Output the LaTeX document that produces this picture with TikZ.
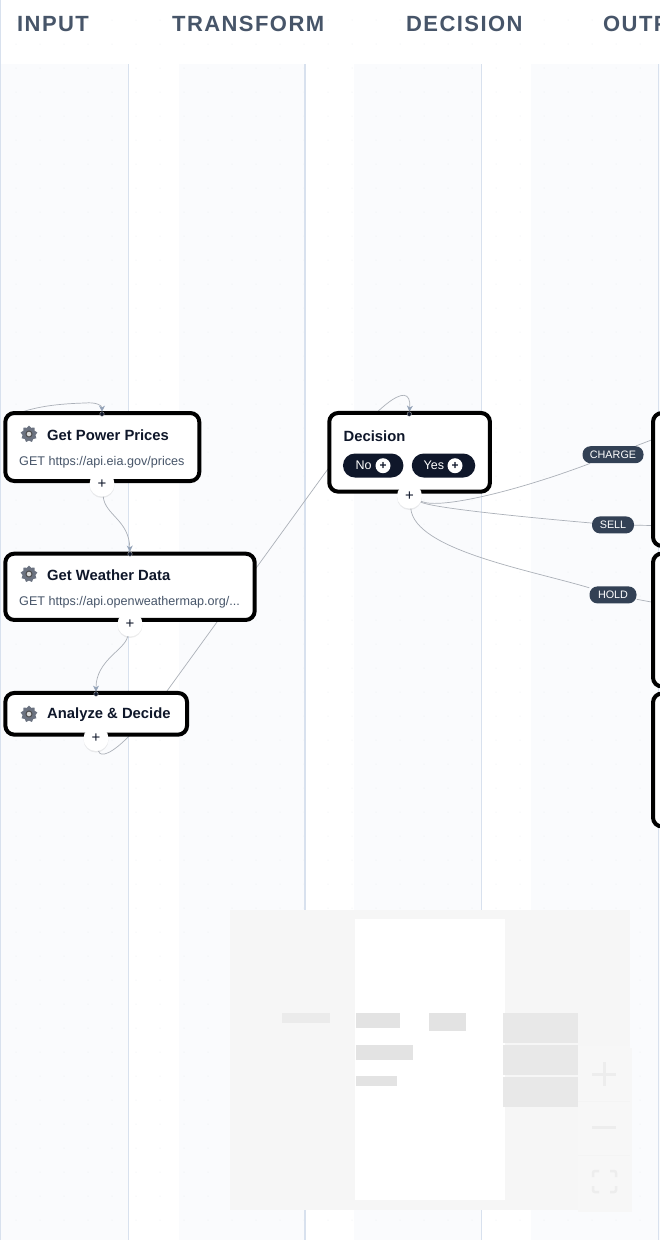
\documentclass[tikz,border=0pt]{standalone}
\usepackage{fontspec}
\setmainfont{Liberation Sans}
\newfontfamily\headfont[LetterSpace=6.5]{Liberation Sans}
\usetikzlibrary{arrows.meta, backgrounds, shadows, shapes.geometric}

\definecolor{bandcol}{HTML}{FAFBFD}
\definecolor{railcol}{HTML}{D8E1EE}
\definecolor{dotcol}{HTML}{E8EBF0}
\definecolor{inkcol}{HTML}{0F172A}
\definecolor{slatecol}{HTML}{475569}
\definecolor{pillcol}{HTML}{334155}
\definecolor{edgecol}{HTML}{ABB0B8}
\definecolor{tipcol}{HTML}{94A3B8}
\definecolor{mapcol}{HTML}{F6F6F6}
\definecolor{ctrlcol}{HTML}{EDEDED}
\definecolor{gearcol}{HTML}{6B7280}

\begin{document}
\begin{tikzpicture}[
    x=1pt, y=-1pt,
    >={Stealth[length=6pt, width=6pt]},
    softshadow/.style={drop shadow={shadow xshift=0pt, shadow yshift=-1.5pt,
                       opacity=0.07, fill=black}},
    card/.style={draw=black, line width=4pt, fill=white, rounded corners=9pt,
                 inner sep=0pt, softshadow},
    heading/.style={anchor=west, inner sep=0pt, text=slatecol,
                    font=\fontsize{22}{24}\headfont\bfseries},
    title/.style={anchor=west, inner sep=0pt, text=inkcol,
                  font=\fontsize{14.8}{16}\selectfont\bfseries},
    urltext/.style={anchor=west, inner sep=0pt, text=slatecol,
                    font=\fontsize{12.6}{14}\selectfont},
    gear/.style={star, star points=9, star point ratio=1.3, fill=gearcol,
                 minimum size=17pt, inner sep=0pt},
    gearhub/.style={circle, fill=black!15, draw=black!70, line width=1pt,
                    minimum size=6pt, inner sep=0pt},
    addbtn/.style={circle, fill=white, minimum size=25pt, inner sep=0pt,
                   text=inkcol, font=\fontsize{15}{15}\selectfont, softshadow},
    handle/.style={circle, fill=inkcol, draw=black!25, line width=0.3pt,
                   minimum size=4.5pt, inner sep=0pt},
    pill/.style={rounded corners=12pt, fill=inkcol, inner sep=0pt,
                 minimum height=24pt},
    pilltext/.style={anchor=west, inner sep=0pt, text=white,
                     font=\fontsize{12.5}{14}\selectfont},
    pilladd/.style={circle, fill=white, minimum size=15pt, inner sep=0pt,
                    text=inkcol, font=\fontsize{12}{12}\selectfont\bfseries},
    tag/.style={rounded corners=8pt, fill=pillcol, inner sep=0pt, text=white,
                minimum height=17pt, font=\fontsize{10.8}{12}\selectfont},
    edge/.style={draw=edgecol, line width=0.7pt},
    edgearrow/.style={edge, -{Stealth[length=6pt, width=6pt, color=tipcol]}},
    rail/.style={draw=railcol, line width=1.8pt},
    ctrlline/.style={draw=ctrlcol, line width=3pt}
  ]
  \useasboundingbox (0,0) rectangle (660,1240);
  \clip (0,0) rectangle (660,1240);

  \node[heading] (headInput) at (17,24) {INPUT};
  \node[heading] (headTransform) at (172,24) {TRANSFORM};
  \node[heading] (headDecision) at (406,24) {DECISION};
  \node[heading] (headOutput) at (603,24) {OUTPUT};

  \node[card, minimum width=194pt, minimum height=68pt] (cardPower) at (102.3,447) {};
  \node[gear] (gearPower) at (29,434) {};
  \node[gearhub] (hubPower) at (gearPower.center) {};
  \node[title] (titlePower) at (47,435) {Get Power Prices};
  \node[urltext] (urlPower) at (19,462.5) {GET https://api.eia.gov/prices};
  \node[addbtn] (plusPower) at (102,484) {+};
  \node[handle] (dotPower) at (102,414) {};

  \node[card, minimum width=249.4pt, minimum height=66.3pt] (cardWeather) at (130,586.8) {};
  \node[gear] (gearWeather) at (29,574) {};
  \node[gearhub] (hubWeather) at (gearWeather.center) {};
  \node[title] (titleWeather) at (47,575) {Get Weather Data};
  \node[urltext] (urlWeather) at (19,602.5) {GET https://api.openweathermap.org/...};
  \node[addbtn] (plusWeather) at (130,624) {+};
  \node[handle] (dotWeather) at (130,554) {};

  \node[card, minimum width=181.7pt, minimum height=41.7pt] (cardAnalyze) at (96.2,713.8) {};
  \node[gear] (gearAnalyze) at (29,714) {};
  \node[gearhub] (hubAnalyze) at (gearAnalyze.center) {};
  \node[title] (titleAnalyze) at (47,715) {Analyze \& Decide};
  \node[addbtn] (plusAnalyze) at (96,738.5) {+};
  \node[handle] (dotAnalyze) at (96,694) {};

  \node[card, minimum width=160.7pt, minimum height=78.7pt] (cardDecision) at (409.6,452.3) {};
  \node[title] (titleDecision) at (343.5,436) {Decision};
  \node[pill, minimum width=60.5pt] (pillNo) at (373.2,465.5) {};
  \node[pill, minimum width=63.5pt] (pillYes) at (443.5,465.5) {};
  \node[pilltext] (textNo) at (355.5,465.7) {No};
  \node[pilltext] (textYes) at (423.5,465.7) {Yes};
  \node[pilladd] (addNo) at (383,465.7) {+};
  \node[pilladd] (addYes) at (455,465.7) {+};
  \node[addbtn] (plusDecision) at (409.5,496) {+};
  \node[handle] (dotDecision) at (409.3,414) {};

  \node[card, minimum width=100pt, minimum height=133pt] (cardCharge) at (703,479.5) {};
  \node[card, minimum width=100pt, minimum height=133pt] (cardSell) at (703,620) {};
  \node[card, minimum width=100pt, minimum height=133pt] (cardHold) at (703,760) {};

  \node[tag, minimum width=61pt] (tagCharge) at (613,454.7) {CHARGE};
  \node[tag, minimum width=42pt] (tagSell) at (613,524.9) {SELL};
  \node[tag, minimum width=47pt] (tagHold) at (613,594.9) {HOLD};

  \coordinate (startPower) at (8,417);
  \coordinate (inCharge) at (654,439);
  \coordinate (inSell) at (654,525.5);
  \coordinate (inHold) at (654,602.5);

  \begin{scope}[on background layer]
    \fill[white] (0,0) rectangle (660,1240);
    \foreach \x/\w in {0/128, 179/126, 354/127, 531/129} {
      \fill[bandcol] (\x,64) rectangle ++(\w,1176);
    }
    \foreach \i in {0,...,27} {
      \foreach \j in {0,...,50} {
        \fill[dotcol] (16+\i*24,20+\j*24) circle (0.5pt);
      }
    }
    \draw[rail] (0.5,0) -- (0.5,1240);
    \foreach \x in {128.5,305,481.5,658.5} {
      \draw[rail] (\x,64) -- (\x,1240);
    }

    \draw[edgearrow] (startPower) .. controls (30,408) and (50,404) .. (85,403)
      .. controls (95,402) and (102,405) .. (dotPower);
    \draw[edgearrow] (plusPower) .. controls (105,515) and (129,520) .. (dotWeather);
    \draw[edgearrow] (plusWeather) .. controls (125,650) and (96,660) .. (dotAnalyze);
    \draw[edgearrow] (plusAnalyze) .. controls (100,758) and (112,754) .. (130,735)
      -- (167,691) -- (325,473) .. controls (372,410) and (412,375) .. (dotDecision);

    \draw[edge] (plusDecision) .. controls (440,510) and (520,490) .. (tagCharge);
    \draw[edge] (tagCharge) -- (inCharge);
    \draw[edge] (plusDecision) .. controls (430,507) and (500,515) .. (tagSell);
    \draw[edge] (tagSell) -- (inSell);
    \draw[edge] (plusDecision) .. controls (415,550) and (530,570) .. (tagHold);
    \draw[edge] (tagHold) -- (inHold);
  \end{scope}

  \fill[black!3] (578,1048) rectangle (632,1212);
  \fill[mapcol] (230,910) rectangle (630,1210);
  \fill[white] (355,919) rectangle (505,1200);
  \fill[black!8] (282,1013) rectangle (330,1023);
  \foreach \x/\y/\w/\h in {356/1013/44/15, 429/1013/37/18, 356/1045/57/15, 356/1076/41/10} {
    \fill[black!11] (\x,\y) rectangle ++(\w,\h);
  }
  \foreach \y in {1013,1045,1077} {
    \fill[black!9] (503,\y) rectangle ++(75,30);
  }

  \fill[black!3] (578,1046) rectangle (630,1210);
  \draw[black!4.5, line width=0.6pt] (578,1101) -- (630,1101);
  \draw[black!4.5, line width=0.6pt] (578,1155) -- (630,1155);
  \draw[ctrlline] (592,1074) -- (616,1074);
  \draw[ctrlline] (604,1062) -- (604,1086);
  \draw[ctrlline] (592,1127.5) -- (616,1127.5);
  \draw[ctrlline, line width=2.5pt, rounded corners=2pt]
    (593,1177) -- (593,1171) -- (599,1171)
    (610,1171) -- (616,1171) -- (616,1177)
    (616,1186) -- (616,1192) -- (610,1192)
    (599,1192) -- (593,1192) -- (593,1186);
\end{tikzpicture}
\end{document}
